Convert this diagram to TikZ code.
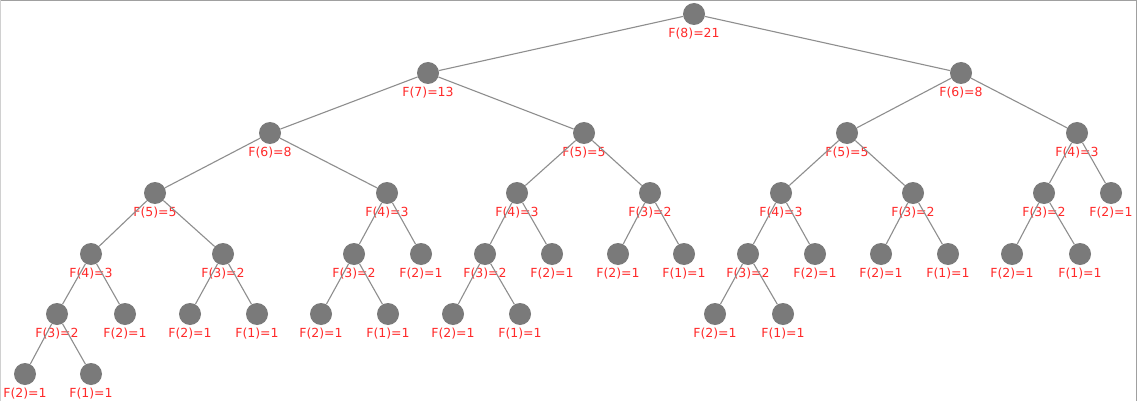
\documentclass[tikz,border=0pt]{standalone}
\usepackage{fontspec}
\setmainfont{DejaVu Sans}
\definecolor{nodegray}{HTML}{7A7A7A}
\definecolor{edgegray}{HTML}{8E8E8E}
\definecolor{labred}{HTML}{FF2A2A}
\definecolor{framegray}{HTML}{A0A0A0}
\tikzset{
  dot/.style={circle,fill=nodegray,minimum size=22pt,inner sep=0pt},
  lab/.style={text=labred,font=\fontsize{12.5}{13}\selectfont,inner sep=0pt},
  edge/.style={draw=edgegray,line width=1.1pt},
}
\newcommand{\fnode}[4]{%
  \node[dot] (#1) at (#2,#3) {};
  \node[lab] (#1l) at (#2,#3+20) {#4};
}
\begin{document}
\begin{tikzpicture}[x=1pt,y=-1pt]
\useasboundingbox (0,0) rectangle (1137,401);
\fill[white] (0,0) rectangle (1137,401);
% level 0
\fnode{a}{694}{14}{F(8)=21}
% level 1
\fnode{b1}{428}{73}{F(7)=13}
\fnode{b2}{961}{73}{F(6)=8}
% level 2
\fnode{c1}{270}{133}{F(6)=8}
\fnode{c2}{584}{133}{F(5)=5}
\fnode{c3}{847}{133}{F(5)=5}
\fnode{c4}{1077}{133}{F(4)=3}
% level 3
\fnode{d1}{155}{193}{F(5)=5}
\fnode{d2}{387}{193}{F(4)=3}
\fnode{d3}{517}{193}{F(4)=3}
\fnode{d4}{650}{193}{F(3)=2}
\fnode{d5}{781}{193}{F(4)=3}
\fnode{d6}{913}{193}{F(3)=2}
\fnode{d7}{1044}{193}{F(3)=2}
\fnode{d8}{1111}{193}{F(2)=1}
% level 4
\fnode{e1}{91}{254}{F(4)=3}
\fnode{e2}{223}{254}{F(3)=2}
\fnode{e3}{354}{254}{F(3)=2}
\fnode{e4}{421}{254}{F(2)=1}
\fnode{e5}{485}{254}{F(3)=2}
\fnode{e6}{552}{254}{F(2)=1}
\fnode{e7}{618}{254}{F(2)=1}
\fnode{e8}{684}{254}{F(1)=1}
\fnode{e9}{748}{254}{F(3)=2}
\fnode{e10}{815}{254}{F(2)=1}
\fnode{e11}{881}{254}{F(2)=1}
\fnode{e12}{948}{254}{F(1)=1}
\fnode{e13}{1012}{254}{F(2)=1}
\fnode{e14}{1080}{254}{F(1)=1}
% level 5
\fnode{f1}{57}{314}{F(3)=2}
\fnode{f2}{125}{314}{F(2)=1}
\fnode{f3}{190}{314}{F(2)=1}
\fnode{f4}{257}{314}{F(1)=1}
\fnode{f5}{321}{314}{F(2)=1}
\fnode{f6}{388}{314}{F(1)=1}
\fnode{f7}{453}{314}{F(2)=1}
\fnode{f8}{520}{314}{F(1)=1}
\fnode{f9}{715}{314}{F(2)=1}
\fnode{f10}{783}{314}{F(1)=1}
% level 6
\fnode{g1}{25}{374}{F(2)=1}
\fnode{g2}{91}{374}{F(1)=1}
% edges
\begin{scope}[on background layer/.style={}]
\end{scope}
\foreach \p/\c in {a/b1,a/b2,b1/c1,b1/c2,b2/c3,b2/c4,
  c1/d1,c1/d2,c2/d3,c2/d4,c3/d5,c3/d6,c4/d7,c4/d8,
  d1/e1,d1/e2,d2/e3,d2/e4,d3/e5,d3/e6,d4/e7,d4/e8,d5/e9,d5/e10,d6/e11,d6/e12,d7/e13,d7/e14,
  e1/f1,e1/f2,e2/f3,e2/f4,e3/f5,e3/f6,e5/f7,e5/f8,e9/f9,e9/f10,
  f1/g1,f1/g2}
  \draw[edge] (\p) -- (\c);
% frame
\draw[framegray,line width=1.5pt] (0,0.75) -- (1137,0.75);
\draw[framegray,line width=1.2pt] (1136.4,0) -- (1136.4,401);
\draw[framegray!50,line width=0.8pt] (0.4,0) -- (0.4,401);
\end{tikzpicture}
\end{document}
